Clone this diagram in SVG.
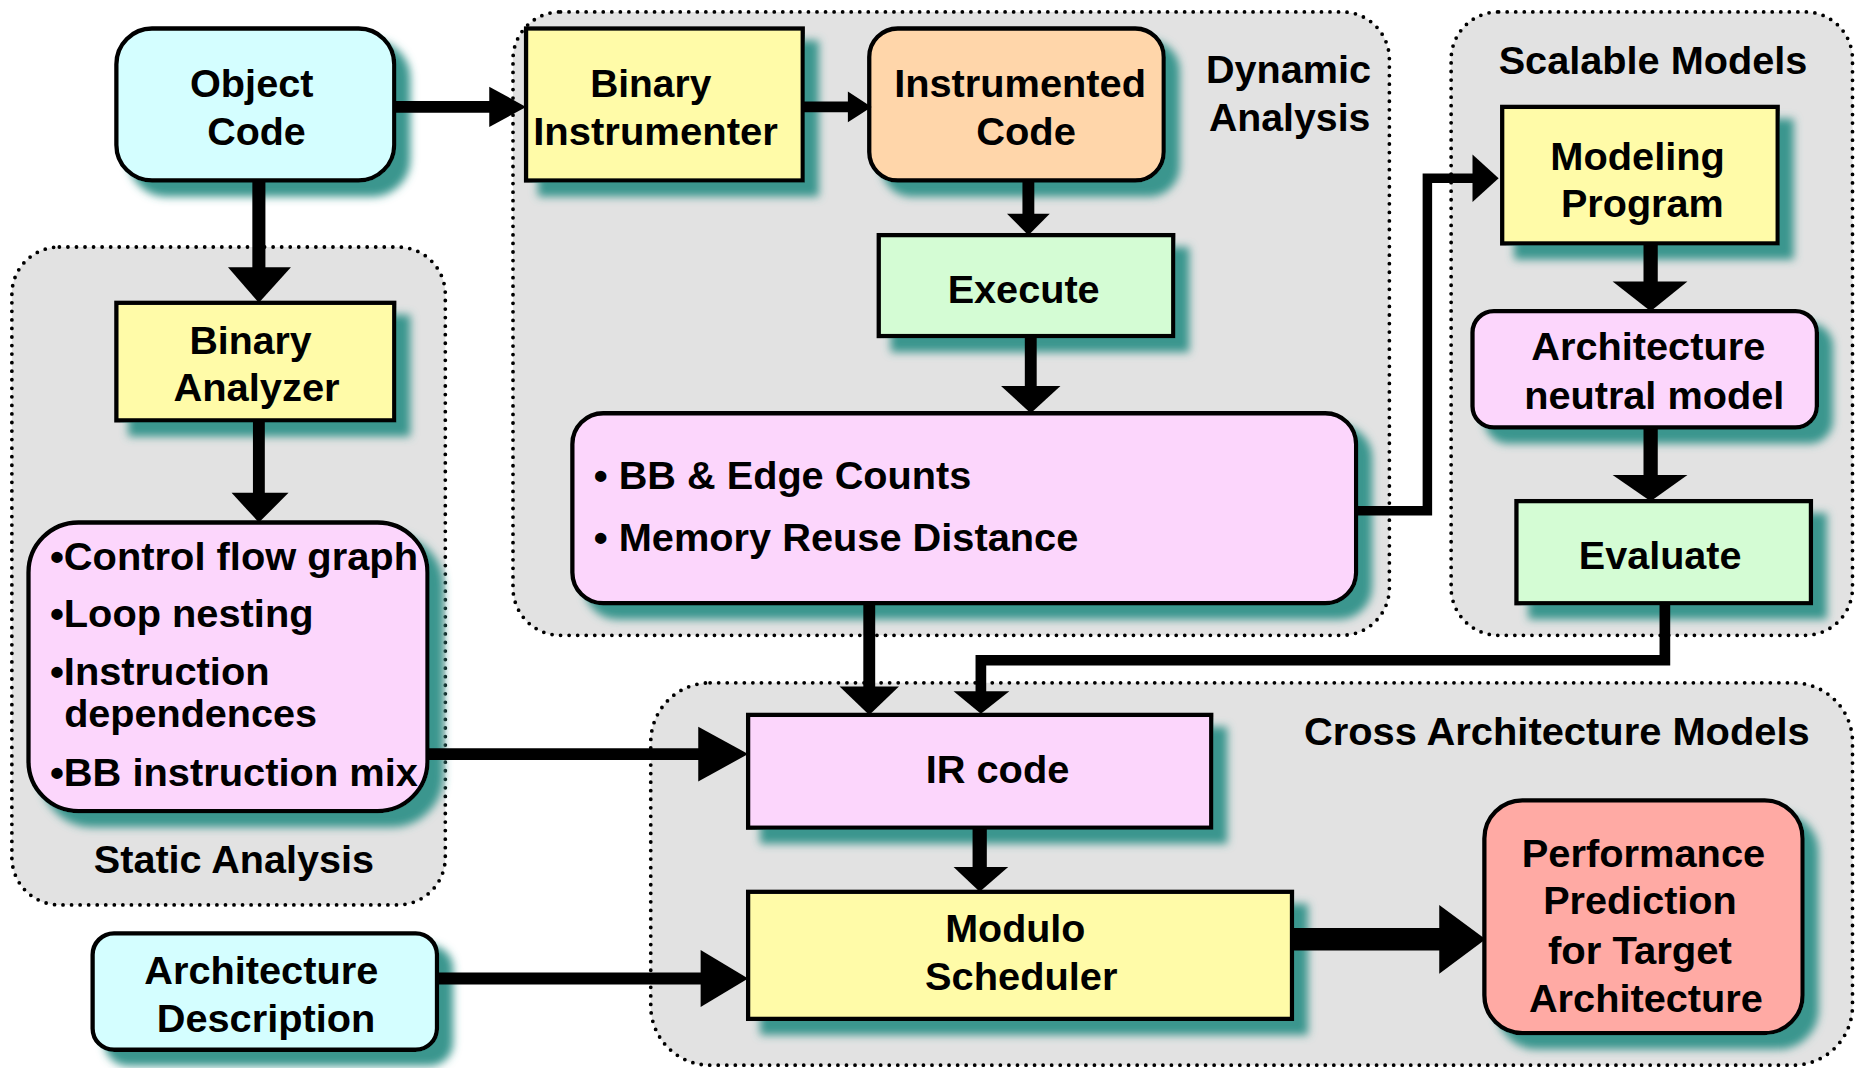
<svg xmlns="http://www.w3.org/2000/svg" width="1862" height="1068" viewBox="0 0 1862 1068">
  <style>
    .grp { fill: #e2e2e2; stroke: #000; stroke-width: 3.2; stroke-dasharray: 0 7.2; stroke-linecap: round; }
    .box { stroke: #000; stroke-width: 3.6; }
    .cyan { fill: #d4feff; }
    .yellow { fill: #fffba8; }
    .peach { fill: #ffd6aa; }
    .green { fill: #d4fcd4; }
    .pink { fill: #fcd6fc; }
    .salmon { fill: #ffaaa4; }
    .t { font-family: "Liberation Sans", Arial, Helvetica, sans-serif; font-weight: bold; font-size: 33px; fill: #000; }
    .c { text-anchor: middle; }
    .wire { fill: none; stroke: #000; stroke-linejoin: miter; stroke-linecap: butt; }
    .head { fill: #000; }
  </style>
  <defs>
    <filter id="shadow" x="-20%" y="-20%" width="150%" height="150%">
      <feGaussianBlur in="SourceAlpha" stdDeviation="3.5" result="b"/>
      <feOffset in="b" dx="12" dy="12" result="o"/>
      <feFlood flood-color="#3a968e"/>
      <feComposite in2="o" operator="in" result="s"/>
      <feMerge>
        <feMergeNode in="s"/>
        <feMergeNode in="SourceGraphic"/>
      </feMerge>
    </filter>
  </defs>
  <rect width="1862" height="1068" fill="#fff"/>
  <g transform="scale(1.1875)">
    <!-- analysis regions -->
    <g id="static-analysis">
      <rect class="grp" x="10" y="208" width="365" height="554" rx="40"/>
      <text class="t c" x="197" y="735" textLength="236" lengthAdjust="spacingAndGlyphs">Static Analysis</text>
    </g>
    <g id="dynamic-analysis">
      <rect class="grp" x="432" y="10" width="738" height="525" rx="40"/>
      <text class="t c" x="1085" y="70" textLength="139" lengthAdjust="spacingAndGlyphs">Dynamic</text>
      <text class="t c" x="1086" y="110" textLength="136" lengthAdjust="spacingAndGlyphs">Analysis</text>
    </g>
    <g id="scalable-models">
      <rect class="grp" x="1222" y="10" width="338" height="525" rx="40"/>
      <text class="t c" x="1392" y="62" textLength="260" lengthAdjust="spacingAndGlyphs">Scalable Models</text>
    </g>
    <g id="cross-architecture-models">
      <rect class="grp" x="548" y="575" width="1012" height="322" rx="50"/>
      <text class="t c" x="1311" y="627" textLength="426" lengthAdjust="spacingAndGlyphs">Cross Architecture Models</text>
    </g>

    <!-- nodes -->
    <g id="object-code">
      <rect class="box cyan" x="98" y="24" width="234" height="128" rx="30" filter="url(#shadow)"/>
      <text class="t c" x="212" y="82" textLength="104" lengthAdjust="spacingAndGlyphs">Object</text>
      <text class="t c" x="216" y="122" textLength="83" lengthAdjust="spacingAndGlyphs">Code</text>
    </g>
    <g id="binary-instrumenter">
      <rect class="box yellow" x="443" y="24" width="233" height="128" filter="url(#shadow)"/>
      <text class="t c" x="548" y="82" textLength="102" lengthAdjust="spacingAndGlyphs">Binary</text>
      <text class="t c" x="552" y="122" textLength="206" lengthAdjust="spacingAndGlyphs">Instrumenter</text>
    </g>
    <g id="instrumented-code">
      <rect class="box peach" x="732" y="24" width="248" height="128" rx="24" filter="url(#shadow)"/>
      <text class="t c" x="859" y="82" textLength="212" lengthAdjust="spacingAndGlyphs">Instrumented</text>
      <text class="t c" x="864" y="122" textLength="84" lengthAdjust="spacingAndGlyphs">Code</text>
    </g>
    <g id="execute">
      <rect class="box green" x="740" y="198" width="248" height="85" filter="url(#shadow)"/>
      <text class="t c" x="862" y="255" textLength="128" lengthAdjust="spacingAndGlyphs">Execute</text>
    </g>
    <g id="dynamic-profile">
      <rect class="box pink" x="482" y="348" width="660" height="160" rx="26" filter="url(#shadow)"/>
      <text class="t" x="500" y="412" textLength="318" lengthAdjust="spacingAndGlyphs">• BB &amp; Edge Counts</text>
      <text class="t" x="500" y="464" textLength="408" lengthAdjust="spacingAndGlyphs">• Memory Reuse Distance</text>
    </g>
    <g id="binary-analyzer">
      <rect class="box yellow" x="98" y="255" width="234" height="99" filter="url(#shadow)"/>
      <text class="t c" x="211" y="298" textLength="103" lengthAdjust="spacingAndGlyphs">Binary</text>
      <text class="t c" x="216" y="338" textLength="140" lengthAdjust="spacingAndGlyphs">Analyzer</text>
    </g>
    <g id="static-profile">
      <rect class="box pink" x="24" y="440" width="336" height="243" rx="42" filter="url(#shadow)"/>
      <text class="t" x="42" y="480" textLength="310" lengthAdjust="spacingAndGlyphs">•Control flow graph</text>
      <text class="t" x="42" y="528" textLength="222" lengthAdjust="spacingAndGlyphs">•Loop nesting</text>
      <text class="t" x="42" y="577" textLength="185" lengthAdjust="spacingAndGlyphs">•Instruction</text>
      <text class="t" x="54" y="612" textLength="213" lengthAdjust="spacingAndGlyphs">dependences</text>
      <text class="t" x="42" y="662" textLength="310" lengthAdjust="spacingAndGlyphs">•BB instruction mix</text>
    </g>
    <g id="architecture-description">
      <rect class="box cyan" x="78" y="786" width="290" height="98" rx="18" filter="url(#shadow)"/>
      <text class="t c" x="220" y="829" textLength="197" lengthAdjust="spacingAndGlyphs">Architecture</text>
      <text class="t c" x="224" y="869" textLength="184" lengthAdjust="spacingAndGlyphs">Description</text>
    </g>
    <g id="modeling-program">
      <rect class="box yellow" x="1265" y="90" width="232" height="115" filter="url(#shadow)"/>
      <text class="t c" x="1379" y="143" textLength="147" lengthAdjust="spacingAndGlyphs">Modeling</text>
      <text class="t c" x="1383" y="183" textLength="137" lengthAdjust="spacingAndGlyphs">Program</text>
    </g>
    <g id="architecture-neutral-model">
      <rect class="box pink" x="1240" y="262" width="290" height="98" rx="18" filter="url(#shadow)"/>
      <text class="t c" x="1388" y="303" textLength="197" lengthAdjust="spacingAndGlyphs">Architecture</text>
      <text class="t c" x="1393" y="344" textLength="219" lengthAdjust="spacingAndGlyphs">neutral model</text>
    </g>
    <g id="evaluate">
      <rect class="box green" x="1277" y="422" width="248" height="86" filter="url(#shadow)"/>
      <text class="t c" x="1398" y="479" textLength="137" lengthAdjust="spacingAndGlyphs">Evaluate</text>
    </g>
    <g id="ir-code">
      <rect class="box pink" x="630" y="602" width="390" height="95" filter="url(#shadow)"/>
      <text class="t c" x="840" y="659" textLength="121" lengthAdjust="spacingAndGlyphs">IR code</text>
    </g>
    <g id="modulo-scheduler">
      <rect class="box yellow" x="630" y="751" width="458" height="107" filter="url(#shadow)"/>
      <text class="t c" x="855" y="793" textLength="118" lengthAdjust="spacingAndGlyphs">Modulo</text>
      <text class="t c" x="860" y="834" textLength="162" lengthAdjust="spacingAndGlyphs">Scheduler</text>
    </g>
    <g id="performance-prediction">
      <rect class="box salmon" x="1250" y="674" width="268" height="196" rx="32" filter="url(#shadow)"/>
      <text class="t c" x="1384" y="730" textLength="205" lengthAdjust="spacingAndGlyphs">Performance</text>
      <text class="t c" x="1381" y="770" textLength="163" lengthAdjust="spacingAndGlyphs">Prediction</text>
      <text class="t c" x="1381" y="812" textLength="155" lengthAdjust="spacingAndGlyphs">for Target</text>
      <text class="t c" x="1386" y="852" textLength="197" lengthAdjust="spacingAndGlyphs">Architecture</text>
    </g>

    <!-- connectors -->
    <g id="connectors">
      <path class="wire" stroke-width="10" d="M332 90H414"/>
      <polygon class="head" points="412,73 443,90 412,107"/>

      <path class="wire" stroke-width="9" d="M676 90H716"/>
      <polygon class="head" points="714,77 734,90 714,103"/>

      <path class="wire" stroke-width="10" d="M866 152V182"/>
      <polygon class="head" points="848,180 884,180 866,198"/>

      <path class="wire" stroke-width="10" d="M868 283V327"/>
      <polygon class="head" points="843,325 893,325 868,348"/>

      <path class="wire" stroke-width="8" d="M1142 430H1202V150H1242"/>
      <polygon class="head" points="1240,130 1262,150 1240,170"/>

      <path class="wire" stroke-width="11" d="M218 152V227"/>
      <polygon class="head" points="192,225 245,225 218,255"/>

      <path class="wire" stroke-width="10" d="M218 354V417"/>
      <polygon class="head" points="195,415 243,415 218,440"/>

      <path class="wire" stroke-width="10" d="M360 635H590"/>
      <polygon class="head" points="588,612 630,635 588,658"/>

      <path class="wire" stroke-width="10" d="M732 508V580"/>
      <polygon class="head" points="707,578 757,578 732,602"/>

      <path class="wire" stroke-width="9" d="M1402 508V556H826V584"/>
      <polygon class="head" points="803,582 850,582 826,601"/>

      <path class="wire" stroke-width="12" d="M1390 205V239"/>
      <polygon class="head" points="1358,237 1421,237 1390,262"/>

      <path class="wire" stroke-width="12" d="M1390 360V402"/>
      <polygon class="head" points="1358,400 1421,400 1390,422"/>

      <path class="wire" stroke-width="12" d="M825 697V732"/>
      <polygon class="head" points="803,730 849,730 825,751"/>

      <path class="wire" stroke-width="10" d="M368 824H592"/>
      <polygon class="head" points="590,800 630,824 590,848"/>

      <path class="wire" stroke-width="19" d="M1088 791H1214"/>
      <polygon class="head" points="1212,762 1251,791 1212,820"/>
    </g>
  </g>
</svg>
